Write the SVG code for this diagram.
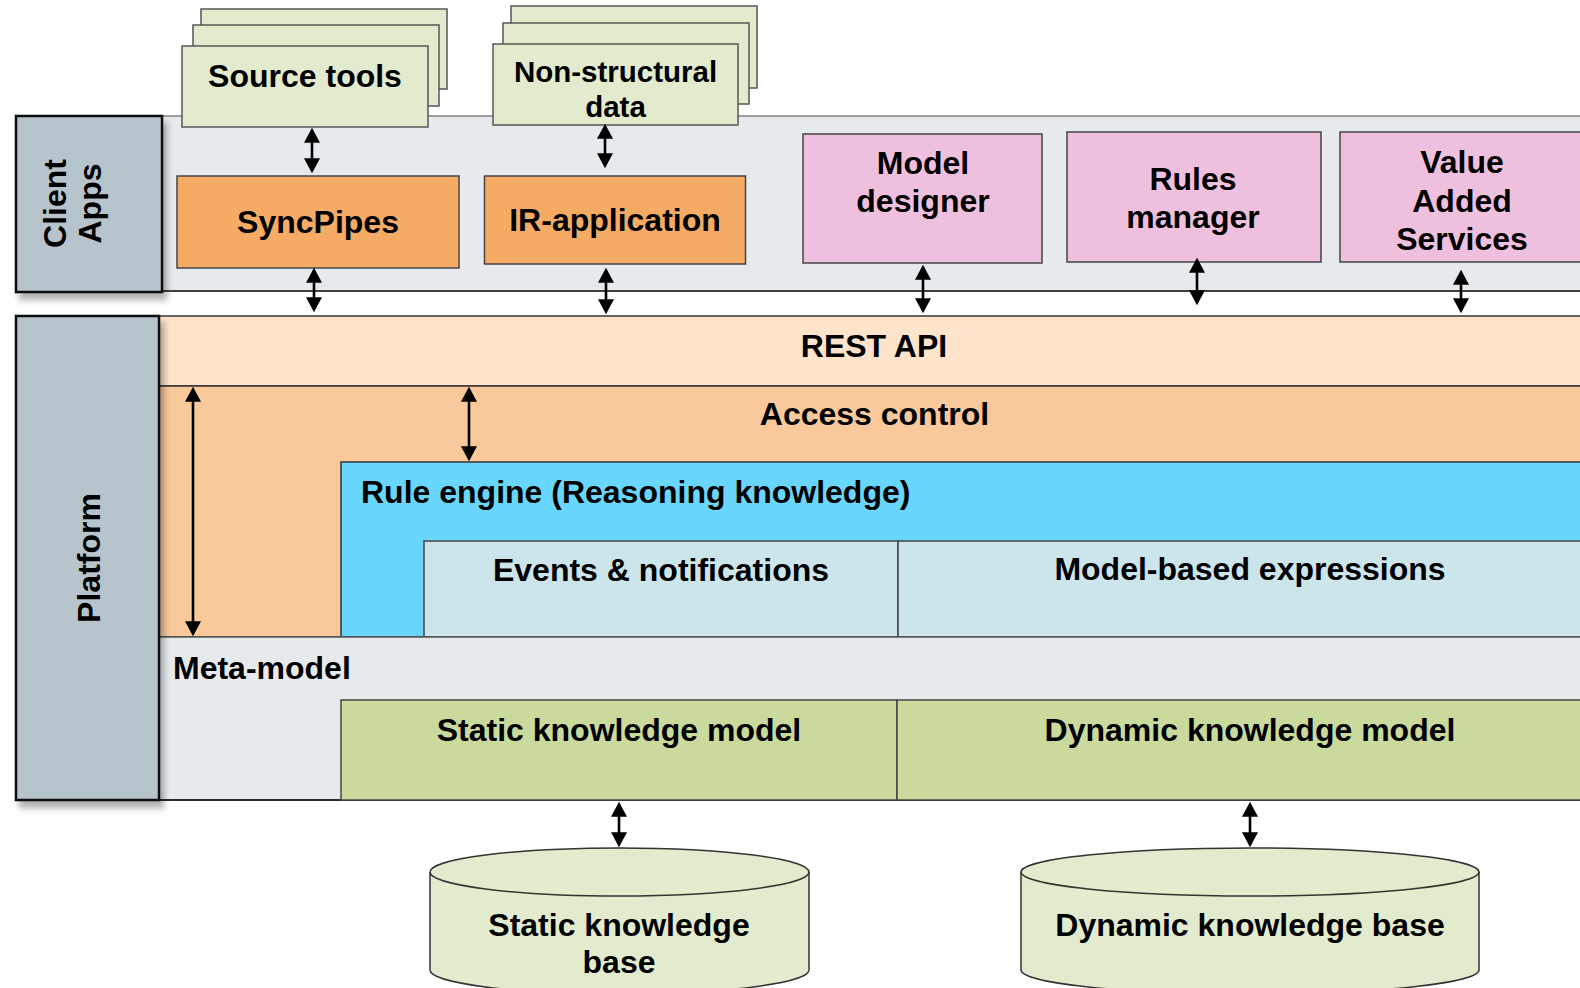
<svg xmlns="http://www.w3.org/2000/svg" width="1580" height="988" viewBox="0 0 1580 988">
<defs>
<marker id="ah" markerUnits="userSpaceOnUse" markerWidth="16" markerHeight="16" refX="11" refY="7.5" orient="auto-start-reverse" viewBox="0 0 14 15">
<path d="M0,0 L14,7.5 L0,15 z" fill="#000"/>
</marker>
<filter id="sh" x="-10%" y="-10%" width="130%" height="130%">
<feDropShadow dx="4" dy="7" stdDeviation="3" flood-color="#000" flood-opacity="0.3"/>
</filter>
<style>
text{font-family:"Liberation Sans",Arial,sans-serif;font-weight:bold;font-size:32px;fill:#000}
.c{text-anchor:middle}
.sm{font-size:29.5px}
.side{fill:#B7C4CC;stroke:#111;stroke-width:2.5}
.band{stroke:#333;stroke-width:1.5}
.src{fill:#E2EBCD;stroke:#555;stroke-width:1.5}
.app{fill:#F6AB64;stroke:#444;stroke-width:1.5}
.pink{fill:#EFC0DD;stroke:#444;stroke-width:1.5}
.cyl{fill:#E2EBCD;stroke:#333;stroke-width:1.5}
.conn line{stroke:#000;stroke-width:2.6;marker-start:url(#ah);marker-end:url(#ah)}
</style>
</defs>
<rect width="1580" height="988" fill="#fff"/>

<g id="client-band">
<rect x="161" y="116" width="1430" height="175" fill="#E6EAED" stroke="#808080" stroke-width="1.5"/>
<line x1="161" y1="291" x2="1580" y2="291" stroke="#222" stroke-width="1.5"/>
</g>

<g id="client-apps">
<rect class="side" x="16" y="116" width="146" height="176" filter="url(#sh)"/>
<text class="c" transform="translate(66,203.5) rotate(-90)">Client</text>
<text class="c" transform="translate(101,203.5) rotate(-90)">Apps</text>
</g>

<g id="source-tools">
<rect class="src" x="201" y="9" width="246" height="80"/>
<rect class="src" x="193" y="25" width="246" height="81"/>
<rect class="src" x="182" y="46" width="246" height="81"/>
<text class="c" x="305" y="87">Source tools</text>
</g>

<g id="non-structural-data">
<rect class="src" x="511" y="6" width="246" height="82"/>
<rect class="src" x="503" y="23" width="246" height="81"/>
<rect class="src" x="493" y="44" width="245" height="81"/>
<text class="c sm" x="615.5" y="82">Non-structural</text>
<text class="c sm" x="615.5" y="117">data</text>
</g>

<g id="syncpipes">
<rect class="app" x="177" y="176" width="282" height="92"/>
<text class="c" x="318" y="233">SyncPipes</text>
</g>

<g id="ir-application">
<rect class="app" x="484.5" y="176" width="261" height="88"/>
<text class="c" x="615" y="231">IR-application</text>
</g>

<g id="model-designer">
<rect class="pink" x="803" y="134" width="239" height="129"/>
<text class="c" x="923" y="174">Model</text>
<text class="c" x="923" y="212">designer</text>
</g>

<g id="rules-manager">
<rect class="pink" x="1067" y="132" width="254" height="130"/>
<text class="c" x="1193" y="190">Rules</text>
<text class="c" x="1193" y="228">manager</text>
</g>

<g id="value-added-services">
<rect class="pink" x="1340" y="132" width="260" height="130"/>
<text class="c" x="1462" y="173">Value</text>
<text class="c" x="1462" y="212">Added</text>
<text class="c" x="1462" y="250">Services</text>
</g>

<g id="rest-api">
<rect class="band" x="159" y="316" width="1440" height="70" fill="#FDE4CB"/>
<text class="c" x="874" y="357">REST API</text>
</g>

<g id="access-control">
<rect class="band" x="159" y="386" width="1440" height="251" fill="#F9C89B"/>
<text class="c" x="874.5" y="425">Access control</text>
</g>

<g id="rule-engine">
<rect class="band" x="341" y="462" width="1258" height="175" fill="#69D6FD"/>
<text x="361" y="503">Rule engine (Reasoning knowledge)</text>
</g>

<g id="events-notifications">
<rect x="424" y="541" width="474" height="96" fill="#CCE5EB" stroke="#444" stroke-width="1.5"/>
<text class="c" x="661" y="581">Events &amp; notifications</text>
</g>

<g id="model-based-expressions">
<rect x="898" y="541" width="701" height="96" fill="#CCE5EB" stroke="#444" stroke-width="1.5"/>
<text class="c" x="1250" y="580">Model-based expressions</text>
</g>

<g id="meta-model">
<rect x="159" y="637" width="1440" height="163" fill="#E6EAED" stroke="#555" stroke-width="1.5"/>
<line x1="159" y1="800" x2="1580" y2="800" stroke="#111" stroke-width="1.5"/>
<text x="173" y="679">Meta-model</text>
</g>

<g id="static-knowledge-model">
<rect x="341" y="700" width="556" height="100" fill="#C9DA9C" stroke="#444" stroke-width="1.5"/>
<text class="c" x="619" y="741">Static knowledge model</text>
</g>

<g id="dynamic-knowledge-model">
<rect x="897" y="700" width="702" height="100" fill="#C9DA9C" stroke="#444" stroke-width="1.5"/>
<text class="c" x="1250" y="741">Dynamic knowledge model</text>
</g>

<g id="platform">
<rect class="side" x="16" y="316" width="143" height="484" filter="url(#sh)"/>
<text class="c" transform="translate(100,558) rotate(-90)">Platform</text>
</g>

<g id="static-knowledge-base">
<path class="cyl" d="M430,872 L430,970 A189.5,24 0 0 0 809,970 L809,872"/>
<ellipse class="cyl" cx="619.5" cy="872" rx="189.5" ry="24"/>
<text class="c" x="619" y="936">Static knowledge</text>
<text class="c" x="619" y="973">base</text>
</g>

<g id="dynamic-knowledge-base">
<path class="cyl" d="M1021,872 L1021,970 A229,24 0 0 0 1479,970 L1479,872"/>
<ellipse class="cyl" cx="1250" cy="872" rx="229" ry="24"/>
<text class="c" x="1250" y="936">Dynamic knowledge base</text>
</g>

<g id="connectors" class="conn">
<line x1="312" y1="131" x2="312" y2="170"/>
<line x1="605" y1="127" x2="605" y2="165"/>
<line x1="314" y1="271" x2="314" y2="309"/>
<line x1="606" y1="271" x2="606" y2="311"/>
<line x1="923" y1="268" x2="923" y2="310"/>
<line x1="1197" y1="261" x2="1197" y2="302"/>
<line x1="1461" y1="273" x2="1461" y2="310"/>
<line x1="193" y1="390" x2="193" y2="633"/>
<line x1="469" y1="390" x2="469" y2="458"/>
<line x1="619" y1="805" x2="619" y2="844"/>
<line x1="1250" y1="805" x2="1250" y2="844"/>
</g>
</svg>
